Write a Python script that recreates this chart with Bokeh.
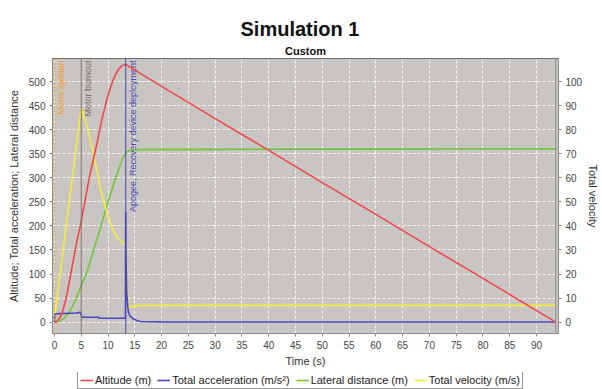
import math
from bokeh.plotting import figure
from bokeh.layouts import column
from bokeh.models import (Range1d, LinearAxis, Legend, LegendItem, Title, Span,
                          FixedTicker)
from bokeh.embed import file_html
from bokeh.resources import INLINE

# ---------------- data ----------------
alt_t = [0, 0.5, 1, 1.5, 2, 2.5, 3, 3.5, 4, 4.5, 5, 5.5, 6, 6.5, 7, 7.5, 8, 8.5,
         9, 9.5, 10, 10.5, 11, 11.5, 12, 12.5, 13, 13.3, 14, 15, 16, 20, 30, 40,
         50, 60, 70, 80, 90, 93.6]
alt_m = [0, 2, 9, 22, 42, 68, 98, 128, 158, 185, 210, 240, 270, 300, 325, 350,
         375, 403, 428, 450, 471, 489, 504, 517, 526, 532, 535, 535.5, 531, 524,
         517, 490, 423, 357, 290, 224, 157, 91, 24, 0]

acc_t = [0, 0.05, 0.5, 1, 2, 3, 4, 4.5, 4.9, 5.0, 5.1, 8.2, 8.3, 13.25, 13.3,
         13.33, 13.4, 13.5, 13.7, 13.8, 14.1, 14.7, 15.4, 16.0, 20, 93.6]
acc_ms2 = [0, 17, 17.5, 17.8, 18.2, 18.6, 19.0, 19.8, 20.5, 15, 10.5, 10.2, 8.3,
           8.3, 229, 150, 110, 60, 30, 22, 13, 7, 3.5, 1.4, 0.6, 0.3]

lat_t = [0, 1, 2, 3, 4, 5, 6, 7, 8, 9, 10, 11, 12, 13, 13.5, 14, 16, 30, 60, 93.6]
lat_m = [0, 2, 10, 25, 48, 76, 102, 138, 175, 212, 250, 285, 318, 347, 354, 357,
         358.5, 359, 359.5, 360]

vel_t = [0, 0.3, 5.0, 6.0, 6.7, 7.3, 8.0, 8.6, 9.2, 9.8, 10.4, 11.0, 11.6, 12.3,
         13.0, 13.3, 13.45, 13.6, 13.8, 14.2, 15, 20, 93.6]
vel_ms = [0, 7, 89.3, 82, 75.5, 70, 62, 55.3, 50, 45.6, 41.5, 38, 35.7, 33.8,
          32.4, 32.3, 21, 13, 5.8, 6.3, 6.9, 7.0, 7.0]

event_t = [0, 5.0, 13.3]
event_names = ["Motor ignition", "Motor burnout", "Apogee, Recovery device deployment"]
event_colors = ["#f0a030", "#7a6e68", "#4a48b0"]
ground_hit_t = 93.6

x_ticks = list(range(0, 95, 5))
y_ticks = list(range(0, 550, 50))
v_ticks = list(range(0, 110, 10))

series_labels = ["Altitude (m)", "Total acceleration (m/s²)",
                 "Lateral distance (m)", "Total velocity (m/s)"]
series_colors = ["#f04848", "#4c46c0", "#72c63a", "#f5ee3c"]

# ---------------- figure ----------------
Y0, Y1 = -23.5, 547.8
p = figure(width=602, height=372, output_backend="svg", toolbar_location=None,
           x_range=Range1d(-0.37, 94.1), y_range=Range1d(Y0, Y1),
           min_border_left=52, min_border_right=40, min_border_top=58,
           min_border_bottom=39, title="Simulation 1")
p.extra_y_ranges = {"vel": Range1d(Y0 / 5.0, Y1 / 5.0)}

p.title.align = "left"
p.title.offset = 188
p.title.text_font = "Liberation Sans"
p.title.text_font_style = "bold"
p.title.text_font_size = "20px"
p.title.text_color = "#111111"
p.title.standoff = 2
p.add_layout(Title(text="Custom", align="center",
                   text_font="Liberation Sans", text_font_style="bold",
                   text_font_size="11px", text_color="#111111", standoff=4), "above")

p.background_fill_color = "#c8c5c3"
p.border_fill_color = "white"
p.outline_line_color = "#6e6e6e"
p.outline_line_width = 1

for g, tk in ((p.xgrid, x_ticks), (p.ygrid, y_ticks)):
    g.ticker = FixedTicker(ticks=tk)
    g.grid_line_color = "#f4f4f4"
    g.grid_line_dash = "3 2"
    g.grid_line_width = 1

def style_axis(ax):
    ax.axis_line_color = "#8a8a8a"
    ax.major_tick_line_color = "#8a8a8a"
    ax.minor_tick_line_color = None
    ax.major_tick_in = 0
    ax.major_tick_out = 3
    ax.major_label_text_font = "Liberation Sans"
    ax.major_label_text_font_size = "10px"
    ax.major_label_text_color = "#444444"
    ax.axis_label_text_font = "Liberation Sans"
    ax.axis_label_text_font_size = "11px"
    ax.axis_label_text_font_style = "normal"
    ax.axis_label_text_color = "#333333"

xa = p.xaxis[0]
xa.ticker = FixedTicker(ticks=x_ticks)
xa.axis_label = "Time (s)"
style_axis(xa)
xa.major_label_standoff = 4
xa.axis_label_standoff = 3

ya = p.yaxis[0]
ya.ticker = FixedTicker(ticks=y_ticks)
ya.axis_label = "Altitude; Total acceleration; Lateral distance"
style_axis(ya)
ya.major_label_standoff = 4
ya.axis_label_standoff = 6

ra = LinearAxis(y_range_name="vel", ticker=FixedTicker(ticks=v_ticks),
                axis_label="Total velocity")
style_axis(ra)
ra.major_label_standoff = 4
ra.axis_label_standoff = 2
p.add_layout(ra, "right")

# ---------------- event markers ----------------
p.add_layout(Span(location=event_t[0], dimension="height", line_color=event_colors[0],
                  line_width=1, line_dash="2 2"))
p.add_layout(Span(location=event_t[1], dimension="height", line_color=event_colors[1],
                  line_width=1))
p.add_layout(Span(location=event_t[2], dimension="height", line_color=event_colors[2],
                  line_width=1))
p.add_layout(Span(location=ground_hit_t, dimension="height", line_color="#8a8a8a",
                  line_width=1))

p.text(x=event_t, y=[Y1] * len(event_t), text=event_names, angle=math.pi / 2,
       text_align="right", text_baseline="top", x_offset=2, y_offset=2,
       text_font_size="9px", text_color=event_colors)

# ---------------- series ----------------
p.line(lat_t, lat_m, line_color=series_colors[2], line_width=1.6)
p.line(vel_t, vel_ms, y_range_name="vel", line_color=series_colors[3], line_width=1.6)
p.line(acc_t, acc_ms2, line_color=series_colors[1], line_width=1.6)
p.line(alt_t, alt_m, line_color=series_colors[0], line_width=1.6)

# ---------------- legend strip ----------------
q = figure(width=602, height=17, output_backend="svg", toolbar_location=None,
           min_border=0, x_range=Range1d(0, 1), y_range=Range1d(0, 1))
q.axis.visible = False
q.grid.visible = False
q.outline_line_color = None
q.background_fill_color = "white"
q.border_fill_color = "white"
items = []
for lab, col in zip(series_labels, series_colors):
    # legend swatch only: the line itself lies outside the strip's range
    r = q.line(x=[-2, -1], y=[-2, -2], line_color=col, line_width=1.6)
    items.append(LegendItem(label=lab, renderers=[r]))

legend = Legend(items=items, orientation="horizontal", location=(25, 0))
legend.label_text_font = "Liberation Sans"
legend.label_text_font_size = "11px"
legend.label_text_color = "#222222"
legend.glyph_width = 13
legend.glyph_height = 12
legend.label_height = 12
legend.label_standoff = 2
legend.spacing = 6
legend.padding = 2
legend.margin = 0
legend.border_line_color = "#333333"
legend.border_line_width = 1
legend.background_fill_color = "white"
q.add_layout(legend)

layout = column(p, q, spacing=0)
open("out.html", "w").write(file_html(layout, INLINE))
